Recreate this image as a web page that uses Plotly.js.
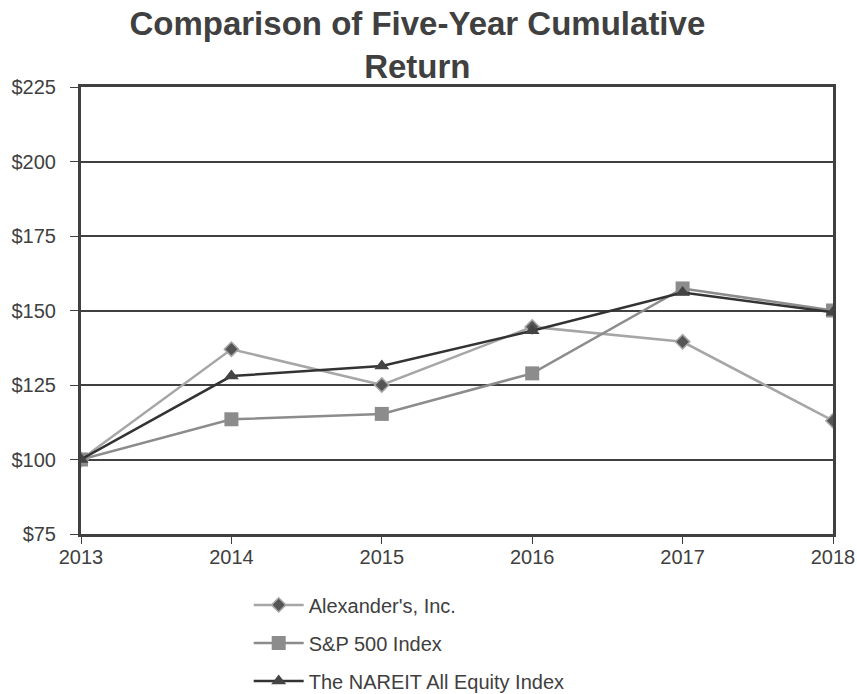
<!DOCTYPE html>
<html>
<head>
<meta charset="utf-8">
<script src="https://cdn.plot.ly/plotly-3.0.1.min.js"></script>
<style>html,body{margin:0;padding:0;background:#fff;}#chart{width:857px;height:694px;}</style>
</head>
<body>
<div id="chart"></div>
<script>
const years = [2013, 2014, 2015, 2016, 2017, 2018];
const alexanders = [100, 137, 125, 144.5, 139.5, 113];
const sp500 = [100, 113.5, 115.3, 128.9, 157.4, 150];
const nareit = [100, 128, 131.4, 143.2, 156, 149.4];
const seriesNames = ["Alexander's, Inc.", "S&P 500 Index", "The NAREIT All Equity Index"];
const yTickVals = [75, 100, 125, 150, 175, 200, 225];

const traces = [
  {
    x: years, y: alexanders, name: seriesNames[0], type: 'scatter', mode: 'lines+markers',
    legendgroup: 'a',
    line: {color: '#a6a6a6', width: 2.5},
    marker: {symbol: 'diamond', size: 11, color: '#555555', line: {color: '#a6a6a6', width: 1.5}}
  },
  {
    x: years, y: sp500, name: seriesNames[1], type: 'scatter', mode: 'lines+markers',
    legendgroup: 'b',
    line: {color: '#8c8c8c', width: 2.5},
    marker: {symbol: 'square', size: 14, color: '#8c8c8c'}
  },
  {
    x: years, y: nareit, name: seriesNames[2], type: 'scatter', mode: 'lines+markers',
    legendgroup: 'c',
    line: {color: '#333333', width: 2.5},
    marker: {symbol: 'triangle-up', size: 13, color: '#444444'}
  }
];

const layout = {
  width: 857, height: 694,
  margin: {l: 81, r: 24, t: 87, b: 160, autoexpand: false},
  paper_bgcolor: '#ffffff', plot_bgcolor: '#ffffff',
  font: {family: 'Liberation Sans, Arial, sans-serif', size: 20, color: '#404040'},
  title: {
    text: 'Comparison of Five-Year Cumulative<br>Return',
    font: {family: 'Liberation Sans, Arial, sans-serif', size: 33, color: '#404040', weight: 'bold'},
    x: 0.487, xanchor: 'center', y: 0.95, yanchor: 'top'
  },
  xaxis: {
    range: [2013, 2018], tickmode: 'array', tickvals: years, ticktext: years.map(String),
    showgrid: false, zeroline: false,
    showline: true, mirror: true, linecolor: '#404040', linewidth: 3,
    ticks: 'outside', ticklen: 7, tickcolor: '#404040', tickwidth: 1,
    ticklabeloverflow: 'allow', ticklabelstandoff: -4,
    tickfont: {size: 20, color: '#404040'}
  },
  yaxis: {
    range: [75, 225], tickmode: 'array', tickvals: yTickVals, ticktext: yTickVals.map(v => '$' + v),
    showgrid: true, gridcolor: '#404040', gridwidth: 2, zeroline: false,
    showline: true, mirror: true, linecolor: '#404040', linewidth: 3,
    ticks: 'outside', ticklen: 8, tickcolor: '#404040', tickwidth: 1,
    ticklabelstandoff: 10,
    tickfont: {size: 20, color: '#404040'}
  },
  showlegend: true,
  legend: {
    orientation: 'v', x: 0.223, xanchor: 'left', y: -0.115, yanchor: 'top',
    traceorder: 'grouped', tracegroupgap: 9, itemwidth: 50,
    font: {size: 20, color: '#404040'}, bgcolor: 'rgba(0,0,0,0)'
  }
};

Plotly.newPlot('chart', traces, layout, {displayModeBar: false, staticPlot: true});
</script>
</body>
</html>
